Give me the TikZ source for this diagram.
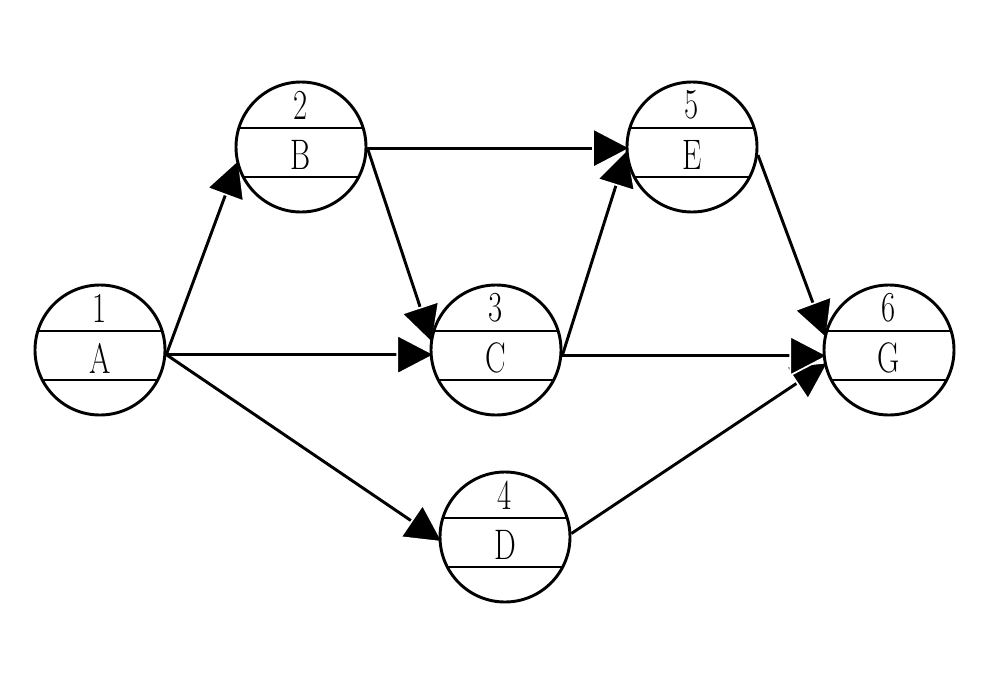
\documentclass[tikz,border=0pt]{standalone}
\usepackage{graphicx}
\usetikzlibrary{arrows.meta,calc}
\pgfdeclarelayer{bg}
\pgfsetlayers{bg,main}
\newcommand\narrowtxt[1]{\scalebox{0.72}[1]{#1}}
\tikzset{
  evt/.style={circle, draw, line width=2.2pt, fill=white, minimum size=97.5pt, inner sep=0pt,
    path picture={
      \draw[line width=2.2pt] ($(path picture bounding box.center)+(-60pt,14.25pt)$) -- ++(120pt,0pt);
      \draw[line width=2.2pt] ($(path picture bounding box.center)+(-60pt,-22.5pt)$) -- ++(120pt,0pt);
    }},
  lbl/.style={inner sep=0pt, font=\fontsize{32}{32}\selectfont},
  arr/.style={line width=2.2pt, shorten >=-5pt,
    -{Triangle[length=30pt,width=31pt,color=white,fill=black,line width=1.3pt]}}
}
\newcommand\evnode[4]{%
  \node[evt] (#1) at (#2) {};
  \node[lbl] (#1num) at ($(#1)+(0pt,31.5pt)$) {\narrowtxt{#3}};
  \node[lbl] (#1let) at ($(#1)+(0pt,-6pt)$) {\narrowtxt{#4}};
}
\begin{document}
\begin{tikzpicture}[x=0.75pt,y=-0.75pt]
  \useasboundingbox (0,0) rectangle (1000,700);
  \evnode{n1}{100,350}{1}{A}
  \evnode{n2}{301,147}{2}{B}
  \evnode{n3}{496,350}{3}{C}
  \evnode{n4}{505,537}{4}{D}
  \evnode{n5}{692,147}{5}{E}
  \evnode{n6}{889,350}{6}{G}
  \begin{pgfonlayer}{bg}
    \draw[arr] (n1.-4.4) -- (n2.195);
    \draw[arr] (n1.-4.4) -- (n4.182);
    \draw[arr] (n2.-1) -- (n3.170);
    \draw[arr] (n1.-4.4) -- (n3.184.4);
    \draw[arr] (n2.-1) -- (n5.181);
    \draw[arr] (n3.-5) -- (n5.186);
    \draw[arr] (n5.-7) -- (n6.166);
    \draw[arr] (n4.3) -- (n6.193);
    \draw[arr] (n3.-5) -- (n6.185);
  \end{pgfonlayer}
\end{tikzpicture}
\end{document}
